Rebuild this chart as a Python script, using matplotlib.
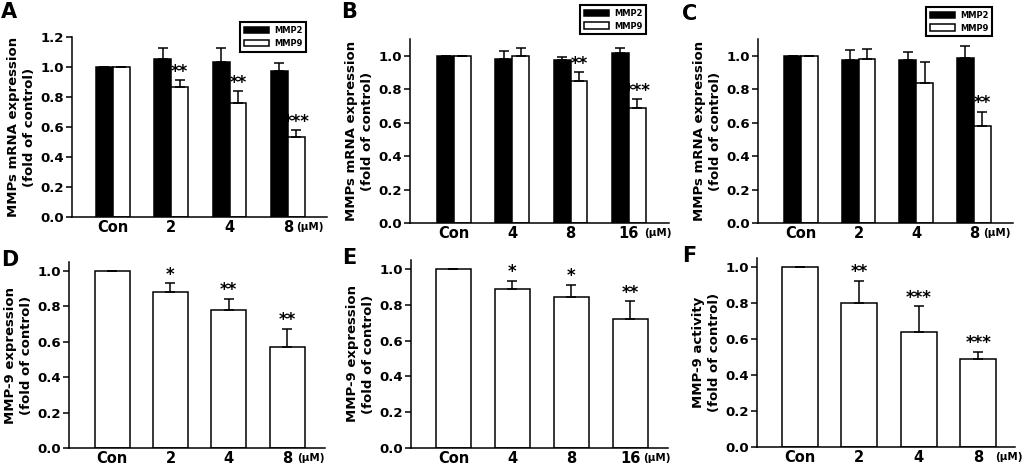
import numpy as np
import matplotlib
matplotlib.use('Agg')
import matplotlib.pyplot as plt

plt.rcParams['font.family'] = ['DejaVu Sans']
plt.rcParams['font.weight'] = 'bold'

# panel A-C: MMP2 / MMP9 mRNA
A_labels = ['Con', '2', '4', '8']
A_mmp2 = [1.0, 1.05, 1.035, 0.97]
A_mmp2_err = [0, 0.075, 0.09, 0.055]
A_mmp9 = [1.0, 0.865, 0.76, 0.53]
A_mmp9_err = [0, 0.045, 0.08, 0.05]
A_stars = ['', '**', '**', '***']

B_labels = ['Con', '4', '8', '16']
B_mmp2 = [1.0, 0.978, 0.974, 1.018]
B_mmp2_err = [0, 0.05, 0.02, 0.03]
B_mmp9 = [1.0, 1.0, 0.848, 0.685]
B_mmp9_err = [0, 0.048, 0.052, 0.055]
B_stars = ['', '', '**', '***']

C_labels = ['Con', '2', '4', '8']
C_mmp2 = [1.0, 0.972, 0.976, 0.986]
C_mmp2_err = [0, 0.06, 0.044, 0.07]
C_mmp9 = [1.0, 0.982, 0.836, 0.58]
C_mmp9_err = [0, 0.06, 0.124, 0.086]
C_stars = ['', '', '', '**']

# panel D-F: MMP-9
D_labels = ['Con', '2', '4', '8']
D_vals = [1.0, 0.879, 0.777, 0.57]
D_err = [0, 0.051, 0.065, 0.104]
D_stars = ['', '*', '**', '**']

E_labels = ['Con', '4', '8', '16']
E_vals = [1.0, 0.886, 0.842, 0.719]
E_err = [0, 0.049, 0.07, 0.1]
E_stars = ['', '*', '*', '**']

F_labels = ['Con', '2', '4', '8']
F_vals = [1.0, 0.799, 0.641, 0.487]
F_err = [0, 0.125, 0.14, 0.043]
F_stars = ['', '**', '***', '***']

W, H = 1024, 467
fig = plt.figure(figsize=(W / 100, H / 100), dpi=100)


def px_axes(left, right, top, bottom):
    return fig.add_axes([left / W, 1 - bottom / H, (right - left) / W, (bottom - top) / H])


def style(ax, labels, ylim, yticks, ylabel, xlim, um_off):
    x = np.arange(len(labels))
    ax.set_xlim(*xlim)
    ax.set_ylim(*ylim)
    ax.set_yticks(yticks)
    ax.set_yticklabels(['%.1f' % t for t in yticks], fontsize=9.5, fontweight='bold')
    ax.set_xticks(x)
    ax.set_xticklabels(labels, fontsize=10.5, fontweight='bold')
    ax.tick_params(axis='x', length=0, pad=2.5)
    ax.tick_params(axis='y', length=4, width=1.1, direction='out', pad=2)
    for s in ['top', 'right']:
        ax.spines[s].set_visible(False)
    for s in ['left', 'bottom']:
        ax.spines[s].set_linewidth(1.1)
    ax.set_ylabel(ylabel, fontsize=9.5, fontweight='bold', labelpad=3, linespacing=1.25)
    ax.annotate('(\u03bcM)', xy=(x[-1], 0), xycoords=('data', 'axes fraction'),
                xytext=(um_off, -3.5), textcoords='offset points',
                ha='left', va='top', fontsize=7.5, fontweight='bold')


def stars(ax, xs, tops, marks):
    for xi, t, m in zip(xs, tops, marks):
        if m:
            ax.annotate(m, xy=(xi, t), xytext=(0, 2.5), textcoords='offset points',
                        ha='center', va='baseline', fontsize=12, fontweight='bold')


def grouped(ax, labels, mmp2, e2, mmp9, e9, marks):
    x = np.arange(len(labels))
    w = 0.29
    ax.bar(x - w / 2, mmp2, w, color='black', edgecolor='black', linewidth=1.1, label='MMP2')
    ax.bar(x + w / 2, mmp9, w, color='white', edgecolor='black', linewidth=1.1, label='MMP9')
    ax.errorbar(x - w / 2, mmp2, yerr=[np.zeros(len(x)), e2], fmt='none', ecolor='black',
                elinewidth=1.1, capsize=3.5, capthick=1.1)
    ax.errorbar(x + w / 2, mmp9, yerr=[np.zeros(len(x)), e9], fmt='none', ecolor='black',
                elinewidth=1.1, capsize=3.5, capthick=1.1)
    stars(ax, x + w / 2, np.array(mmp9) + np.array(e9), marks)


def single(ax, labels, vals, err, marks):
    x = np.arange(len(labels))
    ax.bar(x, vals, 0.6, color='white', edgecolor='black', linewidth=1.1)
    ax.errorbar(x, vals, yerr=[np.zeros(len(x)), err], fmt='none', ecolor='black',
                elinewidth=1.1, capsize=3.5, capthick=1.1)
    stars(ax, x, np.array(vals) + np.array(err), marks)


def legend(ax, x0, y0):
    leg = ax.legend(loc='upper left', bbox_to_anchor=(x0, y0), fontsize=6,
                    handlelength=3.0, handleheight=0.85, handletextpad=0.6,
                    borderpad=0.45, labelspacing=0.45, fancybox=False,
                    edgecolor='black', framealpha=1)
    leg.get_frame().set_linewidth(1.5)
    for t in leg.get_texts():
        t.set_fontweight('bold')


mrna_label = 'MMPs mRNA expression\n(fold of control)'
yt = [0, 0.2, 0.4, 0.6, 0.8, 1.0]

axA = px_axes(72, 327, 37, 217)
grouped(axA, A_labels, A_mmp2, A_mmp2_err, A_mmp9, A_mmp9_err, A_stars)
style(axA, A_labels, (0, 1.2), yt + [1.2], mrna_label, (-0.70, 3.67), 6)
legend(axA, 0.643, 1.105)

axB = px_axes(410, 669, 39, 223)
grouped(axB, B_labels, B_mmp2, B_mmp2_err, B_mmp9, B_mmp9_err, B_stars)
style(axB, B_labels, (0, 1.1), yt, mrna_label, (-0.755, 3.69), 11)
legend(axB, 0.641, 1.207)

axC = px_axes(758, 1013, 39, 223)
grouped(axC, C_labels, C_mmp2, C_mmp2_err, C_mmp9, C_mmp9_err, C_stars)
style(axC, C_labels, (0, 1.1), yt, mrna_label, (-0.745, 3.68), 7)
legend(axC, 0.643, 1.196)

axD = px_axes(69, 325, 262, 448)
single(axD, D_labels, D_vals, D_err, D_stars)
style(axD, D_labels, (0, 1.05), yt, 'MMP-9 expression\n(fold of control)', (-0.74, 3.65), 7)

axE = px_axes(411, 668, 260, 448)
single(axE, E_labels, E_vals, E_err, E_stars)
style(axE, E_labels, (0, 1.05), yt, 'MMP-9 expression\n(fold of control)', (-0.72, 3.64), 9)

axF = px_axes(757, 1015, 258, 447)
single(axF, F_labels, F_vals, F_err, F_stars)
style(axF, F_labels, (0, 1.05), yt, 'MMP-9 activity\n(fold of control)', (-0.72, 3.62), 12)

for letter, xp, yp in [('A', 1, 2), ('B', 341, 2), ('C', 682, 4),
                       ('D', 1, 250), ('E', 342, 248), ('F', 682, 246)]:
    fig.text(xp / W, 1 - yp / H, letter, fontsize=15, fontweight='bold', ha='left', va='top')

fig.savefig('out.png', dpi=100)
